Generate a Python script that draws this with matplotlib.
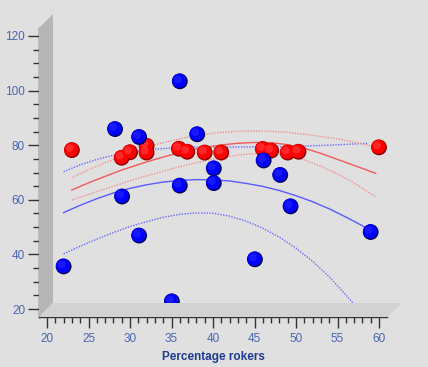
import matplotlib
matplotlib.use("Agg")
import matplotlib.pyplot as plt
import matplotlib.transforms as mtransforms
from matplotlib.patches import Polygon
from matplotlib.ticker import MultipleLocator

# ---- data ----
blue_x = [22, 28.2, 31.1, 29.05, 31.1, 35.05, 36.0, 36.0, 38.1, 40.1, 40.1, 45.05, 46.1, 48.1, 49.35, 59.0]
blue_y = [35.6, 85.9, 83.0, 61.2, 46.9, 22.8, 103.4, 65.2, 84.0, 71.5, 66.1, 38.2, 74.4, 69.1, 57.6, 48.2]

red_x = [23.0, 29.0, 30.0, 32.0, 32.0, 35.9, 36.9, 39.0, 41.0, 46.0, 47.0, 49.0, 50.3, 60.0]
red_y = [78.2, 75.4, 77.4, 79.8, 77.3, 78.7, 77.6, 77.3, 77.3, 78.6, 78.0, 77.3, 77.6, 79.2]

# fitted curves
blue_fit_x = [22, 24, 26, 28, 30, 32, 34, 36, 38, 40, 42, 44, 46, 48, 50, 52, 54, 56, 58, 59]
blue_fit_y = [55.3, 58.0, 60.4, 62.5, 64.2, 65.5, 66.5, 67.1, 67.4, 67.3, 66.9, 66.0, 64.9, 63.4,
              61.5, 59.3, 56.7, 53.7, 50.5, 48.6]
blue_lo_x = [22, 24, 26, 28, 30, 32, 34, 36, 38, 40, 42, 44, 46, 48, 50, 52, 54, 56, 57.4]
blue_lo_y = [40.2, 43.0, 45.6, 48.0, 50.2, 52.0, 53.6, 54.7, 55.2, 55.1, 54.0, 52.2, 49.6, 46.3,
             42.3, 37.5, 31.8, 25.2, 20.3]
blue_hi_x = [22, 24, 26, 28, 30, 32, 34, 36, 38, 42, 46, 50, 54, 58.7]
blue_hi_y = [70.3, 72.8, 74.8, 76.3, 77.5, 78.3, 78.8, 79.1, 79.3, 79.3, 79.4, 79.6, 80.0, 80.7]

red_fit_x = [23, 25, 27, 29, 31, 33, 35, 37, 39, 41, 43, 45, 47, 49, 51, 53, 55, 57, 59.6]
red_fit_y = [63.6, 66.2, 68.6, 70.9, 72.9, 74.8, 76.5, 78.0, 79.2, 80.1, 80.7, 81.0, 80.9, 80.2,
             78.9, 77.0, 74.8, 72.6, 69.7]
red_hi_x = [23, 25, 27, 29, 31, 33, 35, 37, 39, 41, 43, 45, 47, 49, 51, 53, 55, 57, 59.6]
red_hi_y = [68.1, 71.0, 73.6, 76.0, 78.2, 80.1, 81.7, 83.0, 84.0, 84.7, 85.1, 85.2, 85.1, 84.7,
            84.0, 83.2, 82.3, 81.1, 79.4]
red_lo_x = [23, 25, 27, 29, 31, 33, 35, 37, 39, 41, 43, 45, 47, 49, 51, 53, 55, 57, 59.6]
red_lo_y = [59.9, 62.0, 64.0, 66.0, 67.9, 69.6, 71.3, 72.9, 74.3, 75.5, 76.4, 76.9, 76.9, 76.2,
            74.6, 72.3, 69.5, 66.1, 61.1]

x_ticks = [20, 25, 30, 35, 40, 45, 50, 55, 60]
y_ticks = [20, 40, 60, 80, 100, 120]
x_label = "Percentage rokers"

# ---- figure ----
W, H = 428, 367
DPI = 100
BG = "#e0e0e0"
fig = plt.figure(figsize=(W / DPI, H / DPI), dpi=DPI, facecolor=BG)

def fx(px):
    return px / W

def fy(py):
    return (H - py) / H

# 3D wall and floor (decoration, pixel coordinates)
wall = Polygon([(fx(39), fy(28)), (fx(53), fy(14)), (fx(53), fy(303)), (fx(39), fy(317))],
               closed=True, transform=fig.transFigure, facecolor="#b6b6b6", edgecolor="none", zorder=0)
floor = Polygon([(fx(39), fy(317)), (fx(53), fy(303)), (fx(402), fy(303)), (fx(387), fy(317))],
                closed=True, transform=fig.transFigure, facecolor="#d2d2d2", edgecolor="none", zorder=0)
fig.patches.extend([wall, floor])

ax = fig.add_axes([fx(39), fy(317), fx(387) - fx(39), (317 - 28) / H])
ax.set_facecolor("none")
ax.set_xlim(20 - 8 / 8.3, 60 + 8 / 8.3)
ax.set_ylim(20 - 8 / 2.737, 120 + 8 / 2.737)

for s in ["top", "right"]:
    ax.spines[s].set_visible(False)
for s in ["left", "bottom"]:
    ax.spines[s].set_color("#333333")
    ax.spines[s].set_linewidth(1.0)

ax.set_xticks(x_ticks)
ax.set_yticks(y_ticks)
ax.xaxis.set_minor_locator(MultipleLocator(1))
ax.yaxis.set_minor_locator(MultipleLocator(5))
tick_col = "#4a64b0"
ax.tick_params(axis="both", which="major", length=8, width=1.0, color="#333333",
               labelcolor=tick_col, labelsize=8.5)
ax.tick_params(axis="both", which="minor", length=4, width=1.0, color="#333333")
ax.tick_params(axis="x", which="major", pad=3.5)
ax.tick_params(axis="y", which="major", pad=2)
for lab in ax.get_xticklabels() + ax.get_yticklabels():
    lab.set_fontfamily("Liberation Sans")

ax.set_xlabel(x_label, fontfamily="Liberation Sans", fontweight="bold", fontsize=8.5,
              color="#1f3a8f", labelpad=4)

# curves
ax.plot(blue_lo_x, blue_lo_y, color="#6a6aff", lw=1.0, ls=(0, (1, 1)), zorder=2)
ax.plot(blue_hi_x, blue_hi_y, color="#6a6aff", lw=1.0, ls=(0, (1, 1)), zorder=2)
ax.plot(blue_fit_x, blue_fit_y, color="#5a5aff", lw=1.0, zorder=2)
ax.plot(red_hi_x, red_hi_y, color="#f09090", lw=1.0, ls=(0, (1, 1)), zorder=2)
ax.plot(red_lo_x, red_lo_y, color="#f09090", lw=1.0, ls=(0, (1, 1)), zorder=2)
ax.plot(red_fit_x, red_fit_y, color="#f05a5a", lw=1.0, zorder=2)

# balls
S = 130

def balls(xs, ys, dark, main, light, z):
    ax.scatter(xs, ys, s=S, color=dark, edgecolors="none", zorder=z)
    t1 = mtransforms.offset_copy(ax.transData, fig=fig, x=-0.6, y=0.6, units="dots")
    ax.scatter(xs, ys, s=S * 0.8, color=main, edgecolors="none", zorder=z + 0.1, transform=t1)
    t2 = mtransforms.offset_copy(ax.transData, fig=fig, x=-2.0, y=2.0, units="dots")
    ax.scatter(xs, ys, s=S * 0.25, color=light, edgecolors="none", zorder=z + 0.2, transform=t2, alpha=0.5)

balls(red_x, red_y, "#8a0000", "#ff0000", "#ff5050", 3)
balls(blue_x, blue_y, "#00005a", "#0000ff", "#3030ff", 4)

fig.savefig("out.png", dpi=DPI, facecolor=BG)
